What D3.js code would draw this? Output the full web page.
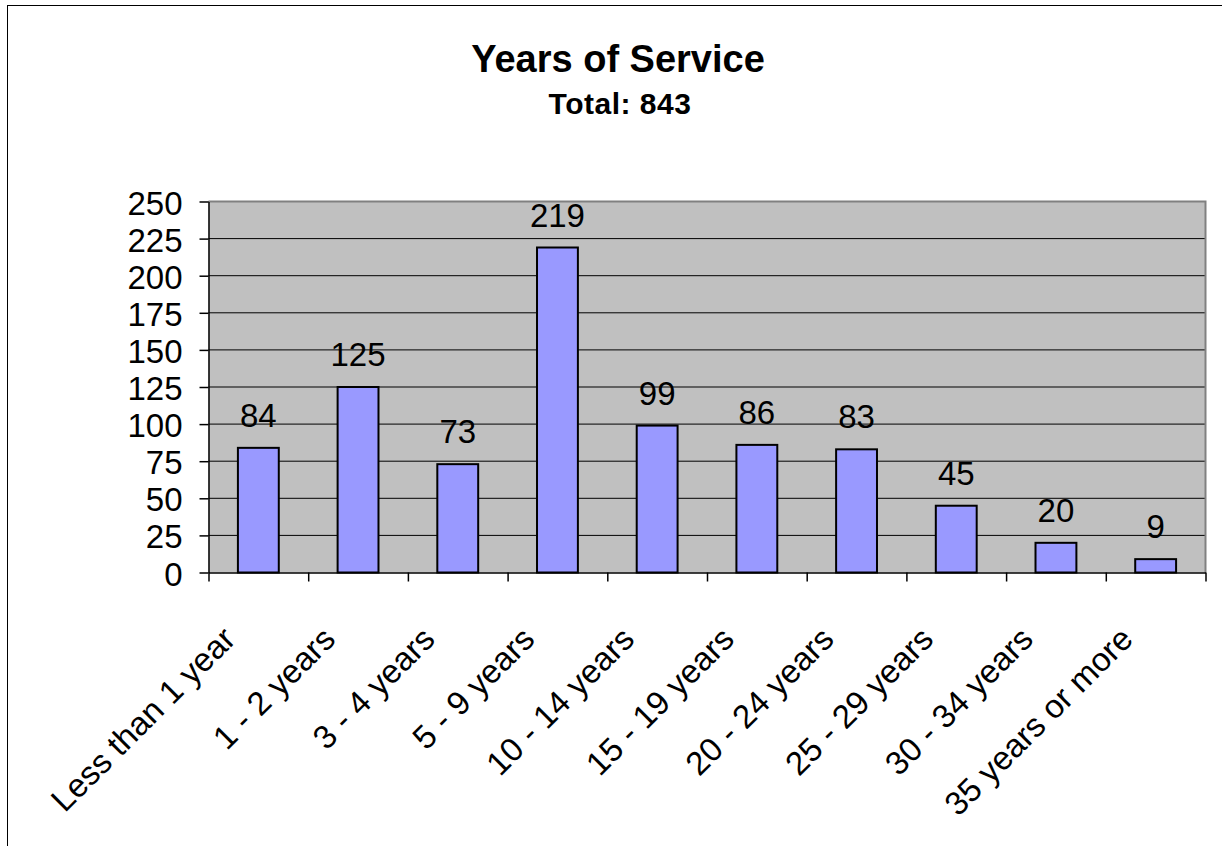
<!DOCTYPE html>
<html>
<head>
<meta charset="utf-8">
<script src="https://cdn.jsdelivr.net/npm/d3@7"></script>
<style>
body { margin: 0; background: #fff; }
text { font-family: "Liberation Sans", Arial, sans-serif; }
</style>
</head>
<body>
<div id="div_svg"></div>
<script>
var categories = ["Less than 1 year", "1 - 2 years", "3 - 4 years", "5 - 9 years", "10 - 14 years",
	"15 - 19 years", "20 - 24 years", "25 - 29 years", "30 - 34 years", "35 years or more"];
var counts = [84, 125, 73, 219, 99, 86, 83, 45, 20, 9];
var yTicks = [0, 25, 50, 75, 100, 125, 150, 175, 200, 225, 250];
var title = "Years of Service";
var subtitle = "Total: 843";

var svg = d3.select("#div_svg").append("svg").attr("id", "svg")
	.attr("width", 1222).attr("height", 846);

// chart frame, runs off the page on the right and bottom
svg.append("rect").attr("x", 7.5).attr("y", 5.5).attr("width", 1400).attr("height", 1000)
	.style("fill", "none").style("stroke", "black");

var pLeft = 208.5, pRight = 1205.5, pTop = 201.5, pBottom = 572.5;

var x = d3.scaleBand().domain(categories).range([pLeft, pRight])
	.paddingInner(0.59).paddingOuter(0.295);
var y = d3.scaleLinear().domain([0, 250]).range([pBottom, pTop]);
var xb = d3.scaleLinear().domain([0, categories.length]).range([pLeft, pRight]);

svg.append("rect").attr("x", pLeft).attr("y", pTop).attr("width", pRight - pLeft)
	.attr("height", pBottom - pTop).style("fill", "#c0c0c0");

svg.append("g").selectAll("line").data(yTicks.slice(1)).enter().append("line")
	.attr("x1", pLeft).attr("x2", pRight)
	.attr("y1", function (d) { return y(d); }).attr("y2", function (d) { return y(d); })
	.style("stroke", "black").style("stroke-width", 1);

// plot area border
svg.append("path").attr("d", "M" + pLeft + "," + pTop + "H" + pRight + "V" + pBottom)
	.style("fill", "none").style("stroke", "#808080").style("stroke-width", 2);

svg.append("g").selectAll("rect").data(counts).enter().append("rect")
	.attr("x", function (d, i) { return x(categories[i]); })
	.attr("y", function (d) { return y(d); })
	.attr("width", x.bandwidth())
	.attr("height", function (d) { return y(0) - y(d); })
	.style("fill", "#9999ff").style("stroke", "black").style("stroke-width", 2);

svg.append("g").selectAll("text").data(counts).enter().append("text")
	.attr("x", function (d, i) { return x(categories[i]) + x.bandwidth() / 2; })
	.attr("y", function (d) { return y(d) - 21; })
	.attr("text-anchor", "middle").style("font-size", "33px")
	.text(function (d) { return d; });

var yAxis = svg.append("g").attr("transform", "translate(" + pLeft + ",0)")
	.call(d3.axisLeft(y).tickValues(yTicks).tickSize(9).tickSizeOuter(0).tickPadding(17));
yAxis.selectAll("text").style("font-size", "33px").style("fill", "black")
	.style("font-family", "'Liberation Sans', Arial, sans-serif").attr("dy", "0.38em");
yAxis.selectAll("line, path").style("stroke", "black").style("stroke-width", 1.5);

var xAxis = svg.append("g").attr("transform", "translate(0," + pBottom + ")")
	.call(d3.axisBottom(xb).ticks(10).tickSize(9).tickSizeOuter(0).tickFormat(""));
xAxis.selectAll("line, path").style("stroke", "black").style("stroke-width", 1.5);

svg.append("g").selectAll("text").data(categories).enter().append("text")
	.attr("transform", function (d) {
		var cx = x(d) + x.bandwidth() / 2 - 21;
		return "translate(" + cx + ",641) rotate(-45)";
	})
	.attr("text-anchor", "end").style("font-size", "33px")
	.text(function (d) { return d; });

svg.append("text").attr("x", 618).attr("y", 72).attr("text-anchor", "middle")
	.style("font-size", "38px").style("font-weight", "bold").text(title);
svg.append("text").attr("x", 620).attr("y", 114).attr("text-anchor", "middle")
	.style("font-size", "30px").style("font-weight", "bold").style("letter-spacing", "0.5px")
	.text(subtitle);
</script>
</body>
</html>
